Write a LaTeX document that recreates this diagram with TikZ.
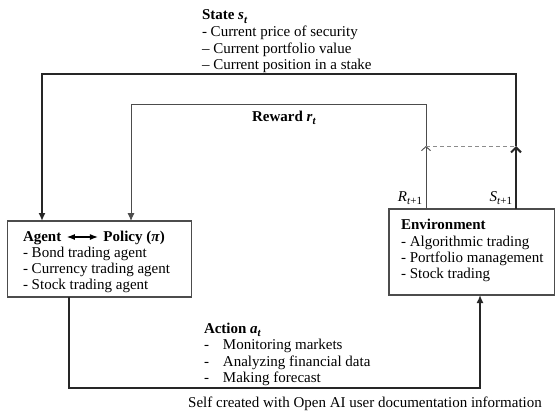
\documentclass[tikz,border=0pt]{standalone}
\usepackage{fontspec}
\setmainfont{Liberation Serif}
\usetikzlibrary{arrows.meta}
\newcommand{\mysub}[1]{\raisebox{-3pt}{\fontsize{11}{11}\selectfont #1}}
\begin{document}
\begin{tikzpicture}[x=1pt,y=-1pt,
  every node/.style={inner sep=0pt,outer sep=0pt,font=\fontsize{15}{16.3}\selectfont},
  box/.style={draw=black!70,line width=1.2pt},
  stateln/.style={draw=black!85,line width=2pt},
  rewardln/.style={draw=black!70,line width=0.9pt},
  actionln/.style={draw=black!85,line width=1.8pt},
  dashln/.style={draw=black!45,line width=1pt,dashed,dash pattern=on 4pt off 3pt},
  txt/.style={anchor=base west},
  filltip/.style={-{Latex[length=8pt,width=7pt]}},
  barbtip/.style={-{Straight Barb[length=5pt,width=10pt]}},
]
\useasboundingbox (0,0) rectangle (556,412);

% boxes
\node[box,minimum width=184pt,minimum height=76pt,anchor=north west] (agent) at (7.5,221) {};
\node[box,minimum width=165.5pt,minimum height=86pt,anchor=north west] (env) at (389,209) {};

% agent text
\node[txt] (ag1) at (23,241) {\textbf{Agent}\hspace{5pt}\tikz[baseline=-4pt]{\draw[{Latex[length=8pt,width=6pt]}-{Latex[length=8pt,width=6pt]},line width=1.1pt] (0pt,0pt) -- (31pt,0pt);}\hspace{5pt}\textbf{Policy (\textit{π})}};
\node[txt] (ag2) at (23,257) {- Bond trading agent};
\node[txt] (ag3) at (23,273) {- Currency trading agent};
\node[txt] (ag4) at (23,289) {- Stock trading agent};

% environment text
\node[txt] (en1) at (401,229) {\textbf{Environment}};
\node[txt] (en2) at (401,246) {- Algorithmic trading};
\node[txt] (en3) at (401,262) {- Portfolio management};
\node[txt] (en4) at (401,278) {- Stock trading};

% state text
\node[txt] (st1) at (202,20) {\textbf{State \textit{s}\mysub{\textit{t}}}};
\node[txt] (st2) at (202,37) {- Current price of security};
\node[txt] (st3) at (202,53) {– Current portfolio value};
\node[txt] (st4) at (202,69) {– Current position in a stake};

% reward text
\node[anchor=base] (rw) at (284,121) {\textbf{Reward \textit{r}\mysub{\textit{t}}}};

% R and S labels
\node[anchor=base east] (rlab) at (422,201) {\textit{R}\mysub{\textit{t}+1}};
\node[anchor=base east] (slab) at (512,201) {\textit{S}\mysub{\textit{t}+1}};

% action text
\node[txt] (ac1) at (204,333) {\textbf{Action \textit{a}\mysub{\textit{t}}}};
\node[txt] (ac2) at (204,349.5) {\makebox[19pt][l]{-}Monitoring markets};
\node[txt] (ac3) at (204,366) {\makebox[19pt][l]{-}Analyzing financial data};
\node[txt] (ac4) at (204,382) {\makebox[19pt][l]{-}Making forecast};

% footer
\node[anchor=base] (foot) at (365,407) {Self created with Open AI user documentation information};

% coordinates
\coordinate (sx) at (516,146);
\coordinate (rx) at (426,146);
\coordinate (stc) at (516,74);
\coordinate (stl) at (42,74);
\coordinate (rwr) at (426,104);
\coordinate (rwl) at (131,104);
\coordinate (abl) at (69,388);
\coordinate (abr) at (480,388);

% state loop
\draw[stateln,barbtip] (sx |- env.north) -- (sx);
\draw[stateln,filltip] (sx) -- (stc) -- (stl) -- (stl |- agent.north);

% reward loop
\draw[rewardln,-{Straight Barb[length=4pt,width=9pt]}] (rx |- env.north) -- (rx);
\draw[rewardln,filltip] (rx) -- (rwr) -- (rwl) -- (rwl |- agent.north);

% dashed link
\draw[dashln] (rx) -- (sx);

% action loop
\draw[actionln,filltip] (abl |- agent.south) -- (abl) -- (abr) -- (abr |- env.south);
\end{tikzpicture}
\end{document}
